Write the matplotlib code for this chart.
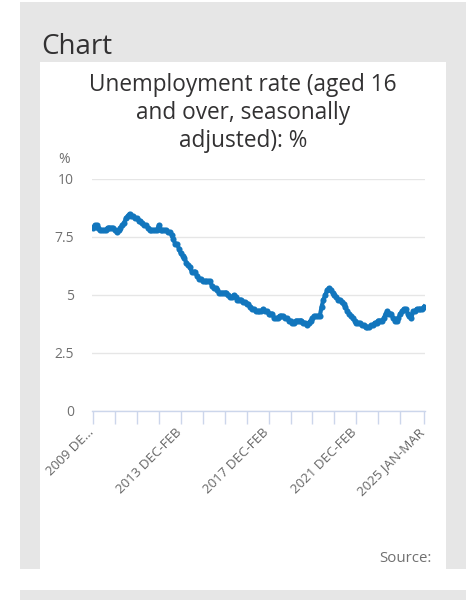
import matplotlib
matplotlib.use("Agg")
import matplotlib.pyplot as plt
import matplotlib.transforms as mtransforms
from matplotlib.patches import Rectangle

plt.rcParams['font.family'] = ['Open Sans', 'DejaVu Sans']

# Monthly rolling 3-month unemployment rate, from Dec-Feb 2010 to Jan-Mar 2025
rate = [
    7.9, 8.0, 8.0, 7.9, 7.8, 7.8, 7.8, 7.8, 7.9, 7.9, 7.9, 7.9,
    7.8, 7.7, 7.8, 7.9, 8.0, 8.1, 8.3, 8.4, 8.5, 8.4, 8.4, 8.3,
    8.3, 8.2, 8.2, 8.1, 8.0, 8.0, 7.9, 7.8, 7.8, 7.8, 7.8, 7.8,
    8.0, 7.8, 7.8, 7.8, 7.8, 7.7, 7.7, 7.6, 7.4, 7.2, 7.2, 7.0,
    6.8, 6.7, 6.6, 6.4, 6.3, 6.2, 6.0, 6.0, 6.0, 5.8, 5.7, 5.7,
    5.6, 5.6, 5.6, 5.6, 5.6, 5.4, 5.3, 5.3, 5.2, 5.1, 5.1, 5.1,
    5.1, 5.1, 5.0, 4.9, 4.9, 5.0, 4.9, 4.8, 4.8, 4.8, 4.7, 4.7,
    4.6, 4.6, 4.5, 4.4, 4.4, 4.3, 4.3, 4.3, 4.3, 4.4, 4.3, 4.3,
    4.2, 4.2, 4.2, 4.0, 4.0, 4.0, 4.1, 4.1, 4.1, 4.0, 4.0, 3.9,
    3.9, 3.8, 3.8, 3.9, 3.9, 3.9, 3.9, 3.8, 3.8, 3.7, 3.8, 3.9,
    4.0, 4.1, 4.1, 4.1, 4.1, 4.5, 4.8, 5.0, 5.2, 5.3, 5.2, 5.1,
    5.0, 4.9, 4.8, 4.8, 4.7, 4.6, 4.5, 4.3, 4.2, 4.1, 4.0, 3.9,
    3.8, 3.8, 3.8, 3.7, 3.7, 3.6, 3.6, 3.6, 3.7, 3.7, 3.8, 3.8,
    3.9, 3.9, 3.9, 4.0, 4.2, 4.3, 4.2, 4.2, 4.0, 3.9, 3.9, 4.0,
    4.2, 4.3, 4.4, 4.4, 4.2, 4.1, 4.0, 4.3, 4.3, 4.4, 4.4, 4.4,
    4.4, 4.5,
]
tick_positions = [0, 12, 24, 36, 48, 60, 72, 84, 96, 108, 120, 132, 144, 156, 168, 181]
tick_labels = ['2009 DE...', '', '', '', '2013 DEC-FEB', '', '', '', '2017 DEC-FEB',
               '', '', '', '2021 DEC-FEB', '', '', '2025 JAN-MAR']
y_ticks = [0, 2.5, 5, 7.5, 10]
y_labels = ['0', '2.5', '5', '7.5', '10']

W, H = 477, 600
fig = plt.figure(figsize=(W / 100, H / 100), dpi=100)
fig.patch.set_facecolor('white')

def rect_px(x0, y0, x1, y1, color):
    fig.patches.append(Rectangle((x0 / W, 1 - y1 / H), (x1 - x0) / W, (y1 - y0) / H,
                                 transform=fig.transFigure, facecolor=color,
                                 edgecolor='none', zorder=-5))

grey = '#e6e6e6'
rect_px(20, 2, 466, 569, grey)
rect_px(40, 62, 446, 569, 'white')
rect_px(20, 590, 466, 600, grey)

fig.text(41 / W, 1 - 54 / H, 'Chart', fontsize=20, color='#323132', ha='left', va='baseline')
fig.text(243 / W, 1 - 147 / H, 'Unemployment rate (aged 16\nand over, seasonally\nadjusted): %',
         fontsize=16.3, color='#323132', ha='center', va='baseline', linespacing=1.22,
         multialignment='center')
fig.text(64 / W, 1 - 160 / H, '%', fontsize=10, color='#707070', ha='center', va='center')
fig.text(432 / W, 1 - 559 / H, 'Source:', fontsize=10.8, color='#707070', ha='right', va='center')

ax = fig.add_axes([92 / W, 1 - 411 / H, 333 / W, 232 / H])
ax.set_facecolor('none')
x = list(range(len(rate)))
ax.plot(x, rate, color='#1276bd', linewidth=3.0, marker='o', markersize=4.4,
        markeredgewidth=0, solid_joinstyle='round', zorder=3)
ax.set_xlim(-0.5, len(rate) - 0.5)
ax.set_ylim(0, 10)

ax.set_yticks(y_ticks)
ax.set_yticklabels(y_labels)
ax.grid(axis='y', color='#e6e6e6', linewidth=1)
ax.tick_params(axis='y', length=0, pad=13, labelsize=10, labelcolor='#707070')

ax.set_xticks(tick_positions)
ax.set_xticklabels(tick_labels, rotation=45, ha='right', rotation_mode='anchor')
ax.tick_params(axis='x', length=9, width=1, color='#ccd6eb', pad=4, labelsize=9.6,
               labelcolor='#666666')
shift = mtransforms.ScaledTranslation(-6 / 100, 3 / 100, fig.dpi_scale_trans)
for lab in ax.get_xticklabels():
    lab.set_transform(lab.get_transform() + shift)

for s in ['top', 'right', 'left']:
    ax.spines[s].set_visible(False)
ax.spines['bottom'].set_color('#ccd6eb')
ax.spines['bottom'].set_linewidth(1)
ax.set_axisbelow(True)

fig.savefig('out.png', dpi=100)
